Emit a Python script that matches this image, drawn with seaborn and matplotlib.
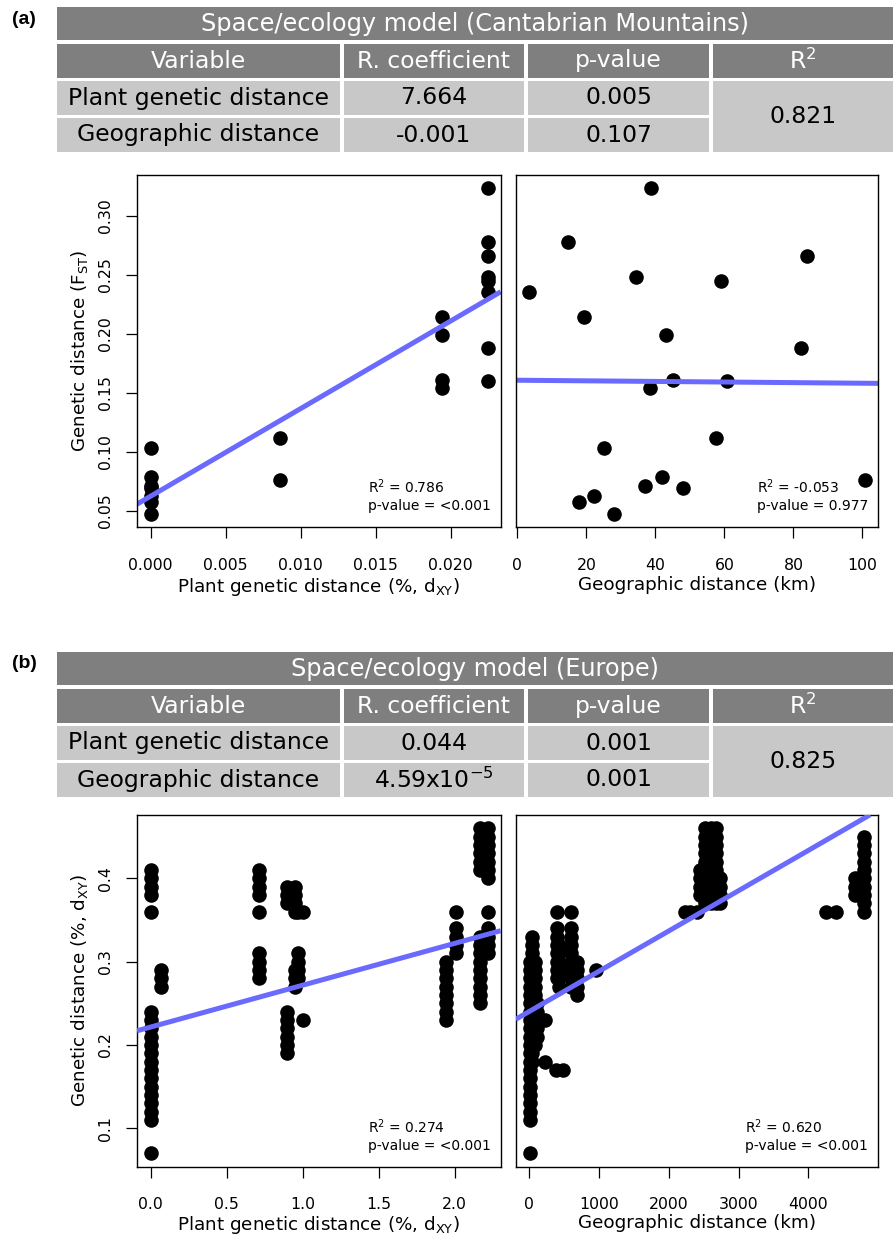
import matplotlib
matplotlib.use("Agg")
import matplotlib.pyplot as plt
import seaborn as sns
import pandas as pd
from matplotlib.patches import Rectangle
from matplotlib.ticker import FormatStrFormatter, MultipleLocator, FixedLocator

# ---------- (a) Cantabrian Mountains: population pairs ----------
cm_fst = [0.3235, 0.2777, 0.2664, 0.2480, 0.2446, 0.2359, 0.2147, 0.1994,
          0.1884, 0.1613, 0.1602, 0.1545, 0.1116, 0.1034, 0.0760, 0.0791,
          0.0709, 0.0698, 0.0630, 0.0576, 0.0475]
cm_plant_dxy = [0.0225, 0.0225, 0.0225, 0.0225, 0.0225, 0.0225, 0.0194, 0.0194,
                0.0225, 0.0194, 0.0225, 0.0194, 0.0086, 0.0, 0.0086, 0.0,
                0.0, 0.0, 0.0, 0.0, 0.0]
cm_geo_km = [38.7, 14.8, 84.0, 34.4, 59.1, 3.3, 19.3, 43.1,
             82.2, 45.2, 60.7, 38.5, 57.5, 25.1, 100.7, 41.9,
             36.9, 47.9, 22.3, 18.0, 28.0]

# ---------- (b) Europe: columns of pairwise values ----------
eu_plant_cols = [0.0, 0.07, 0.71, 0.90, 0.95, 0.97, 1.00, 1.94, 2.01, 2.17, 2.22]
eu_plant_vals = [
    [0.07, 0.11, 0.12, 0.13, 0.14, 0.15, 0.16, 0.17, 0.18, 0.19, 0.20, 0.21,
     0.22, 0.23, 0.24, 0.36, 0.38, 0.39, 0.40, 0.41],
    [0.27, 0.28, 0.29],
    [0.28, 0.29, 0.30, 0.31, 0.36, 0.38, 0.39, 0.40, 0.41],
    [0.19, 0.20, 0.21, 0.22, 0.23, 0.24, 0.37, 0.38, 0.39],
    [0.27, 0.28, 0.29, 0.36, 0.37, 0.38, 0.39],
    [0.28, 0.29, 0.30, 0.31, 0.36],
    [0.23, 0.36],
    [0.23, 0.24, 0.25, 0.26, 0.27, 0.28, 0.29, 0.30],
    [0.31, 0.32, 0.33, 0.34, 0.36],
    [0.25, 0.26, 0.27, 0.28, 0.29, 0.30, 0.31, 0.32, 0.33,
     0.41, 0.42, 0.43, 0.44, 0.45, 0.46],
    [0.31, 0.32, 0.33, 0.34, 0.36, 0.40, 0.41, 0.42, 0.43, 0.44, 0.45, 0.46],
]
eu_geo_cols = [5, 40, 80, 110, 220, 380, 490, 390, 430, 600, 680, 960,
               2230, 2310, 2400, 2450, 2520, 2600, 2680, 2740, 4260, 4400, 4670, 4800]
eu_geo_vals = [
    [0.07, 0.11, 0.12, 0.13, 0.14, 0.15, 0.16, 0.17, 0.18, 0.19, 0.20, 0.21,
     0.22, 0.23, 0.24, 0.25, 0.26, 0.27, 0.28, 0.29, 0.30],
    [0.18, 0.19, 0.20, 0.21, 0.22, 0.23, 0.24, 0.25, 0.26, 0.27, 0.28, 0.29,
     0.30, 0.31, 0.32, 0.33],
    [0.20, 0.21, 0.22, 0.23, 0.24, 0.25, 0.26, 0.27, 0.28, 0.29, 0.30],
    [0.21, 0.22, 0.23, 0.24, 0.25],
    [0.18, 0.23],
    [0.17],
    [0.17],
    [0.28, 0.29, 0.30, 0.31, 0.32, 0.33, 0.34, 0.36],
    [0.27, 0.28, 0.29, 0.30, 0.31, 0.32],
    [0.27, 0.28, 0.29, 0.30, 0.31, 0.32, 0.33, 0.34, 0.36],
    [0.26, 0.27, 0.28, 0.29, 0.30],
    [0.29],
    [0.36], [0.36], [0.36],
    [0.38, 0.39, 0.40, 0.41],
    [0.37, 0.38, 0.39, 0.40, 0.41, 0.42, 0.43, 0.44, 0.45, 0.46],
    [0.37, 0.38, 0.39, 0.40, 0.41, 0.42, 0.43, 0.44, 0.45, 0.46],
    [0.37, 0.38, 0.39, 0.40, 0.41, 0.42, 0.43, 0.44, 0.45, 0.46],
    [0.37, 0.38, 0.39, 0.40],
    [0.36], [0.36],
    [0.38, 0.39, 0.40],
    [0.36, 0.37, 0.38, 0.39, 0.40, 0.41, 0.42, 0.43, 0.44, 0.45],
]
# fitted lines: intercept, slope
eu_plant_fit = [0.2215, 0.0502]
eu_geo_fit = [0.2402, 4.83e-5]
eu_geo_ticks = [0, 1000, 2000, 3000, 4000]

# ---------- tables ----------
col_headers = ["Variable", "R. coefficient", "p-value", r"R$^{\mathregular{2}}$"]
row_names = ["Plant genetic distance", "Geographic distance"]
cm_coef = ["7.664", "-0.001"]
cm_pval = ["0.005", "0.107"]
cm_r2 = "0.821"
eu_coef = ["0.044", r"4.59x10$^{\mathregular{-5}}$"]
eu_pval = ["0.001", "0.001"]
eu_r2 = "0.825"

# annotation texts
cm_stats = ["R$^2$ = 0.786\np-value = <0.001", "R$^2$ = -0.053\np-value = 0.977"]
eu_stats = ["R$^2$ = 0.274\np-value = <0.001", "R$^2$ = 0.620\np-value = <0.001"]

df_cm = pd.DataFrame({"fst": cm_fst, "dxy": cm_plant_dxy, "geo": cm_geo_km})
df_eu_plant = pd.DataFrame({"x": [c for c, v in zip(eu_plant_cols, eu_plant_vals) for _ in v],
                            "y": [y for v in eu_plant_vals for y in v]})
df_eu_geo = pd.DataFrame({"x": [c for c, v in zip(eu_geo_cols, eu_geo_vals) for _ in v],
                          "y": [y for v in eu_geo_vals for y in v]})

sns.set_theme(style="ticks")
plt.rcParams["font.family"] = ["DejaVu Sans"]
plt.rcParams["mathtext.default"] = "regular"
plt.rcParams["text.color"] = "black"
plt.rcParams["axes.labelcolor"] = "black"
plt.rcParams["xtick.labelcolor"] = "black"
plt.rcParams["ytick.labelcolor"] = "black"

W, H = 895, 1238
fig = plt.figure(figsize=(W / 100, H / 100), dpi=100)

LINE_COL = "#6a6aff"
DARK = "#7f7f7f"
LIGHT = "#c8c8c8"
LAB_FS = 13.2


def px_axes(x0, y0, x1, y1):
    return fig.add_axes([x0 / W, 1 - y1 / H, (x1 - x0) / W, (y1 - y0) / H])


def draw_table(top, title, coef, pval, r2):
    ax = px_axes(57, top, 893, top + 145)
    ax.set_xlim(0, 836)
    ax.set_ylim(145, 0)
    ax.axis("off")
    cols = [0, 285, 469, 654, 836]
    rows = [(0, 33), (37, 71), (74, 108), (111, 145)]

    def cell(x0, x1, y0, y1, color, text, tcolor, fs=16.9):
        ax.add_patch(Rectangle((x0, y0), x1 - x0, y1 - y0, color=color, lw=0))
        ax.text((x0 + x1) / 2, (y0 + y1) / 2, text, ha="center", va="center",
                fontsize=fs, color=tcolor)

    cell(0, 836, rows[0][0], rows[0][1], DARK, title, "white", fs=17.3)
    for i in range(4):
        x0 = cols[i] + (2 if i > 0 else 0)
        x1 = cols[i + 1] - (2 if i < 3 else 0)
        cell(x0, x1, rows[1][0], rows[1][1], DARK, col_headers[i], "white")
        if i < 3:
            for r in range(2):
                txt = [row_names[r], coef[r], pval[r]][i]
                cell(x0, x1, rows[2 + r][0], rows[2 + r][1], LIGHT, txt, "black")
        else:
            cell(x0, x1, rows[2][0], rows[3][1], LIGHT, r2, "black")


def style_axes(ax, show_y):
    for sp in ax.spines.values():
        sp.set_visible(True)
        sp.set_color("black")
        sp.set_linewidth(1.0)
    ax.tick_params(axis="x", direction="out", length=8, width=0.9, labelsize=11.3,
                   pad=14, color="black", labelcolor="black")
    if show_y:
        ax.tick_params(axis="y", direction="out", length=8, width=0.9, labelsize=11.3,
                       pad=9, labelrotation=90, color="black", labelcolor="black")
        for lab in ax.get_yticklabels():
            lab.set_va("center")
    else:
        ax.tick_params(axis="y", left=False, labelleft=False)


def stats_text(ax, txt):
    ax.text(0.972, 0.04, txt, transform=ax.transAxes, ha="right", va="bottom",
            multialignment="left", fontsize=10, linespacing=1.25, color="black")


scat = {"s": 110, "color": "black", "alpha": 1, "linewidths": 0}
line = {"color": LINE_COL, "lw": 3.6, "solid_capstyle": "butt"}

# ---------- panel (a) ----------
draw_table(7, "Space/ecology model (Cantabrian Mountains)", cm_coef, cm_pval, cm_r2)

ax1 = px_axes(137, 175, 500.7, 527)
ax1.set_xlim(-0.000913, 0.02333)
ax1.set_ylim(0.0364, 0.3347)
sns.regplot(data=df_cm, x="dxy", y="fst", ax=ax1, ci=None, truncate=False,
            scatter_kws=scat, line_kws=line)
ax1.set_xlim(-0.000913, 0.02333)
ax1.set_ylim(0.0364, 0.3347)
ax1.xaxis.set_major_locator(MultipleLocator(0.005))
ax1.xaxis.set_major_formatter(FormatStrFormatter("%.3f"))
ax1.yaxis.set_major_locator(MultipleLocator(0.05))
ax1.yaxis.set_major_formatter(FormatStrFormatter("%.2f"))
ax1.set_xlabel(r"Plant genetic distance (%, d$_{\mathregular{XY}}$)", fontsize=LAB_FS, labelpad=2.5)
ax1.set_ylabel(r"Genetic distance (F$_{\mathregular{ST}}$)", fontsize=LAB_FS, labelpad=6)
style_axes(ax1, True)
stats_text(ax1, cm_stats[0])

ax2 = px_axes(515.7, 175, 878.3, 527)
ax2.set_xlim(-0.46, 104.6)
ax2.set_ylim(0.0364, 0.3347)
sns.regplot(data=df_cm, x="geo", y="fst", ax=ax2, ci=None, truncate=False,
            scatter_kws=scat, line_kws=line)
ax2.set_xlim(-0.46, 104.6)
ax2.set_ylim(0.0364, 0.3347)
ax2.xaxis.set_major_locator(MultipleLocator(20))
ax2.set_xlabel("Geographic distance (km)", fontsize=LAB_FS, labelpad=2.5)
ax2.set_ylabel("")
style_axes(ax2, False)
stats_text(ax2, cm_stats[1])

# ---------- panel (b) ----------
draw_table(652, "Space/ecology model (Europe)", eu_coef, eu_pval, eu_r2)

ax3 = px_axes(137, 814.7, 500.7, 1166.7)
sns.regplot(data=df_eu_plant, x="x", y="y", ax=ax3, fit_reg=False, scatter_kws=scat)
ax3.axline((0, eu_plant_fit[0]), slope=eu_plant_fit[1], zorder=5, **line)
ax3.set_xlim(-0.09, 2.303)
ax3.set_ylim(0.0539, 0.4763)
ax3.xaxis.set_major_locator(MultipleLocator(0.5))
ax3.xaxis.set_major_formatter(FormatStrFormatter("%.1f"))
ax3.yaxis.set_major_locator(MultipleLocator(0.1))
ax3.yaxis.set_major_formatter(FormatStrFormatter("%.1f"))
ax3.set_xlabel(r"Plant genetic distance (%, d$_{\mathregular{XY}}$)", fontsize=LAB_FS, labelpad=1.5)
ax3.set_ylabel(r"Genetic distance (%, d$_{\mathregular{XY}}$)", fontsize=LAB_FS, labelpad=6)
style_axes(ax3, True)
stats_text(ax3, eu_stats[0])

ax4 = px_axes(515.7, 814.7, 878.3, 1166.7)
sns.regplot(data=df_eu_geo, x="x", y="y", ax=ax4, fit_reg=False, scatter_kws=scat)
ax4.axline((0, eu_geo_fit[0]), slope=eu_geo_fit[1], zorder=5, **line)
ax4.set_xlim(-195, 5004)
ax4.set_ylim(0.0539, 0.4763)
ax4.xaxis.set_major_locator(FixedLocator(eu_geo_ticks))
ax4.set_xlabel("Geographic distance (km)", fontsize=LAB_FS, labelpad=1.5)
ax4.set_ylabel("")
style_axes(ax4, False)
stats_text(ax4, eu_stats[1])

PFONT = ["Liberation Sans", "DejaVu Sans"]
fig.text(12 / W, 1 - 19 / H, "(a)", fontsize=14, fontweight="bold", va="center", family=PFONT)
fig.text(12 / W, 1 - 663 / H, "(b)", fontsize=14, fontweight="bold", va="center", family=PFONT)

fig.savefig("out.png", dpi=100)
